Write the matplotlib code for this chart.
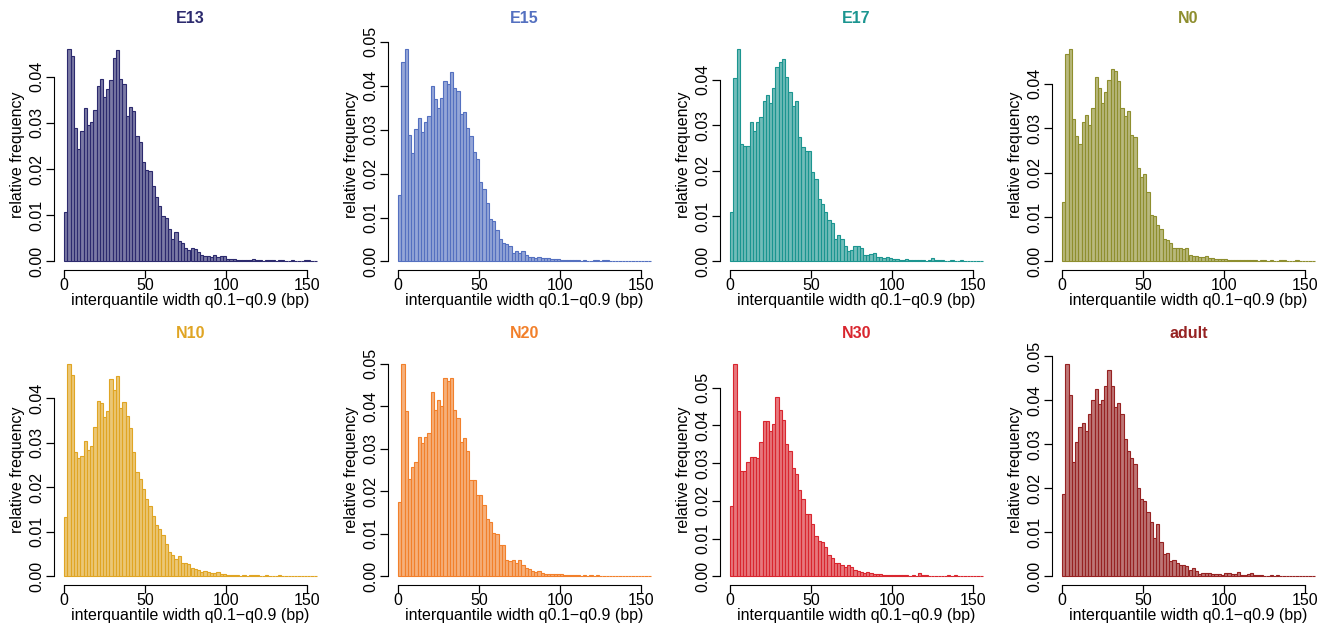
import numpy as np
import matplotlib
matplotlib.use("Agg")
import matplotlib.pyplot as plt
from matplotlib.colors import to_rgba

plt.rcParams['font.family'] = ['Liberation Sans', 'DejaVu Sans']

# histogram bins: 2 bp wide, starting at 0
bin_width = 2

stages = ["E13", "E15", "E17", "N0", "N10", "N20", "N30", "adult"]
colors = ["#2C2A6E", "#5470C0", "#1B9590", "#8E8E2E",
          "#E0A524", "#F2802B", "#D9262F", "#962222"]
ytop = [0.04, 0.05, 0.04, 0.04, 0.04, 0.05, 0.05, 0.05]

# relative frequency per bin
e13 = [0.0108, 0.0461, 0.0445, 0.0290, 0.0244, 0.0283, 0.0333, 0.0296, 0.0303, 0.0328,
       0.0380, 0.0394, 0.0357, 0.0373, 0.0393, 0.0440, 0.0458, 0.0395, 0.0384, 0.0314,
       0.0335, 0.0326, 0.0272, 0.0259, 0.0216, 0.0197, 0.0196, 0.0164, 0.0140, 0.0120,
       0.0099, 0.0094, 0.0070, 0.0048, 0.0063, 0.0045, 0.0041, 0.0029, 0.0025, 0.0029,
       0.0027, 0.0020, 0.0014, 0.0012, 0.0011, 0.0009, 0.0013, 0.0009, 0.0011, 0.0011,
       0.0006, 0.0006, 0.0005, 0.0004, 0.0003, 0.0004, 0.0003, 0.0004, 0.0005, 0.0003,
       0.0003, 0.0002, 0.0003, 0.0003, 0.0004, 0.0002, 0.0003, 0.0003, 0.0002, 0.0002,
       0.0003, 0.0002, 0.0002, 0.0002, 0.0003, 0.0003, 0.0002, 0.0001]
e15 = [0.0151, 0.0455, 0.0485, 0.0289, 0.0248, 0.0302, 0.0326, 0.0295, 0.0317, 0.0331,
       0.0400, 0.0370, 0.0350, 0.0372, 0.0412, 0.0404, 0.0432, 0.0394, 0.0389, 0.0336,
       0.0341, 0.0304, 0.0285, 0.0249, 0.0233, 0.0181, 0.0164, 0.0134, 0.0097, 0.0093,
       0.0072, 0.0052, 0.0042, 0.0040, 0.0036, 0.0020, 0.0025, 0.0019, 0.0024, 0.0014,
       0.0011, 0.0011, 0.0009, 0.0011, 0.0009, 0.0008, 0.0007, 0.0006, 0.0005, 0.0006,
       0.0004, 0.0004, 0.0003, 0.0004, 0.0003, 0.0003, 0.0002, 0.0003, 0.0002, 0.0002,
       0.0003, 0.0004, 0.0002, 0.0003, 0.0003, 0.0002, 0.0002, 0.0002, 0.0001, 0.0002,
       0.0002, 0.0001, 0.0001, 0.0002, 0.0002, 0.0001, 0.0002, 0.0002]
e17 = [0.0108, 0.0403, 0.0469, 0.0259, 0.0254, 0.0254, 0.0307, 0.0287, 0.0308, 0.0319,
       0.0353, 0.0366, 0.0349, 0.0381, 0.0429, 0.0440, 0.0445, 0.0407, 0.0374, 0.0343,
       0.0354, 0.0274, 0.0253, 0.0243, 0.0243, 0.0196, 0.0182, 0.0137, 0.0126, 0.0108,
       0.0091, 0.0085, 0.0050, 0.0058, 0.0050, 0.0034, 0.0024, 0.0026, 0.0033, 0.0033,
       0.0029, 0.0015, 0.0015, 0.0017, 0.0018, 0.0009, 0.0010, 0.0007, 0.0010, 0.0007,
       0.0006, 0.0006, 0.0004, 0.0004, 0.0005, 0.0003, 0.0004, 0.0003, 0.0003, 0.0003,
       0.0002, 0.0003, 0.0007, 0.0003, 0.0004, 0.0003, 0.0002, 0.0002, 0.0003, 0.0002,
       0.0002, 0.0003, 0.0001, 0.0002, 0.0002, 0.0002, 0.0001, 0.0002]
n0 = [0.0133, 0.0466, 0.0479, 0.0321, 0.0282, 0.0264, 0.0314, 0.0329, 0.0308, 0.0345,
      0.0416, 0.0391, 0.0357, 0.0381, 0.0409, 0.0434, 0.0428, 0.0406, 0.0346, 0.0327,
      0.0338, 0.0284, 0.0280, 0.0211, 0.0191, 0.0196, 0.0157, 0.0105, 0.0102, 0.0081,
      0.0073, 0.0050, 0.0049, 0.0041, 0.0030, 0.0030, 0.0030, 0.0028, 0.0030, 0.0015,
      0.0013, 0.0013, 0.0011, 0.0009, 0.0013, 0.0007, 0.0007, 0.0006, 0.0005, 0.0006,
      0.0005, 0.0004, 0.0004, 0.0003, 0.0004, 0.0003, 0.0003, 0.0004, 0.0003, 0.0003,
      0.0002, 0.0003, 0.0003, 0.0002, 0.0003, 0.0002, 0.0002, 0.0004, 0.0003, 0.0002,
      0.0002, 0.0002, 0.0003, 0.0002, 0.0001, 0.0001, 0.0001, 0.0001]
n10 = [0.0133, 0.0478, 0.0452, 0.0280, 0.0267, 0.0271, 0.0305, 0.0284, 0.0292, 0.0336,
       0.0393, 0.0389, 0.0359, 0.0372, 0.0443, 0.0419, 0.0451, 0.0378, 0.0391, 0.0361,
       0.0334, 0.0280, 0.0234, 0.0218, 0.0196, 0.0174, 0.0159, 0.0136, 0.0116, 0.0106,
       0.0092, 0.0073, 0.0054, 0.0049, 0.0039, 0.0045, 0.0031, 0.0031, 0.0028, 0.0020,
       0.0017, 0.0015, 0.0009, 0.0013, 0.0011, 0.0008, 0.0008, 0.0009, 0.0006, 0.0006,
       0.0004, 0.0004, 0.0003, 0.0003, 0.0002, 0.0003, 0.0002, 0.0003, 0.0003, 0.0003,
       0.0002, 0.0002, 0.0003, 0.0002, 0.0002, 0.0002, 0.0003, 0.0001, 0.0002, 0.0001,
       0.0002, 0.0001, 0.0001, 0.0001, 0.0001, 0.0001, 0.0001, 0.0001]
n20 = [0.0174, 0.0500, 0.0389, 0.0228, 0.0256, 0.0268, 0.0328, 0.0314, 0.0328, 0.0336,
       0.0434, 0.0392, 0.0414, 0.0401, 0.0465, 0.0459, 0.0465, 0.0392, 0.0373, 0.0316,
       0.0326, 0.0295, 0.0227, 0.0227, 0.0191, 0.0191, 0.0168, 0.0135, 0.0127, 0.0102,
       0.0100, 0.0074, 0.0074, 0.0039, 0.0037, 0.0039, 0.0031, 0.0038, 0.0026, 0.0020,
       0.0017, 0.0013, 0.0010, 0.0013, 0.0008, 0.0007, 0.0006, 0.0006, 0.0005, 0.0006,
       0.0005, 0.0004, 0.0004, 0.0003, 0.0004, 0.0003, 0.0002, 0.0003, 0.0002, 0.0003,
       0.0002, 0.0003, 0.0002, 0.0002, 0.0002, 0.0001, 0.0002, 0.0002, 0.0001, 0.0001,
       0.0001, 0.0001, 0.0001, 0.0001, 0.0001, 0.0001, 0.0001, 0.0001]
n30 = [0.0187, 0.0564, 0.0437, 0.0280, 0.0280, 0.0304, 0.0316, 0.0317, 0.0315, 0.0355,
       0.0413, 0.0412, 0.0386, 0.0404, 0.0476, 0.0441, 0.0414, 0.0350, 0.0332, 0.0287,
       0.0272, 0.0228, 0.0205, 0.0166, 0.0166, 0.0139, 0.0106, 0.0094, 0.0090, 0.0077,
       0.0057, 0.0049, 0.0037, 0.0037, 0.0031, 0.0026, 0.0031, 0.0025, 0.0018, 0.0015,
       0.0013, 0.0009, 0.0011, 0.0009, 0.0007, 0.0007, 0.0006, 0.0005, 0.0004, 0.0004,
       0.0003, 0.0003, 0.0004, 0.0003, 0.0003, 0.0002, 0.0003, 0.0002, 0.0008, 0.0003,
       0.0003, 0.0002, 0.0002, 0.0001, 0.0002, 0.0002, 0.0002, 0.0003, 0.0002, 0.0003,
       0.0002, 0.0001, 0.0001, 0.0001, 0.0001, 0.0001, 0.0001, 0.0001]
adult = [0.0187, 0.0483, 0.0412, 0.0259, 0.0306, 0.0340, 0.0349, 0.0331, 0.0368, 0.0400,
         0.0425, 0.0391, 0.0400, 0.0433, 0.0468, 0.0432, 0.0385, 0.0394, 0.0369, 0.0311,
         0.0285, 0.0268, 0.0255, 0.0200, 0.0175, 0.0171, 0.0147, 0.0123, 0.0087, 0.0119,
         0.0078, 0.0051, 0.0053, 0.0034, 0.0038, 0.0030, 0.0026, 0.0026, 0.0023, 0.0015,
         0.0019, 0.0013, 0.0006, 0.0009, 0.0008, 0.0007, 0.0005, 0.0005, 0.0006, 0.0004,
         0.0009, 0.0007, 0.0005, 0.0005, 0.0011, 0.0004, 0.0004, 0.0006, 0.0007, 0.0003,
         0.0003, 0.0003, 0.0002, 0.0002, 0.0003, 0.0002, 0.0004, 0.0002, 0.0002, 0.0002,
         0.0001, 0.0001, 0.0001, 0.0002, 0.0001, 0.0002, 0.0001, 0.0001]

series = [e13, e15, e17, n0, n10, n20, n30, adult]

fig = plt.figure(figsize=(13.38, 6.25), dpi=100)
W, H = 1338.0, 625.0
lefts = [54, 388, 720, 1052]
tops = [40, 355]
pw, ph = 273, 230

for i, (name, col, vals, yt) in enumerate(zip(stages, colors, series, ytop)):
    r, c = divmod(i, 4)
    ax = fig.add_axes([lefts[c] / W, 1 - (tops[r] + ph) / H, pw / W, ph / H])
    vals = np.array(vals)
    edges = np.arange(len(vals) + 1) * bin_width
    ax.bar(edges[:-1], vals, width=bin_width, align='edge',
           color=to_rgba(col, 0.62), edgecolor=col, linewidth=0.8)
    xmax = edges[-1]
    ymax = vals.max()
    ax.set_xlim(-0.04 * xmax, 1.04 * xmax)
    ax.set_ylim(-0.04 * ymax, 1.04 * ymax)
    for s in ['top', 'right']:
        ax.spines[s].set_visible(False)
    ax.spines['bottom'].set_bounds(0, 150)
    ax.spines['left'].set_bounds(0, yt)
    ax.set_xticks([0, 50, 100, 150])
    yticks = np.arange(0, yt + 1e-9, 0.01)
    ax.set_yticks(yticks)
    ax.set_yticklabels([f"{v:.2f}" for v in yticks], rotation=90, va='center')
    ax.tick_params(labelsize=11.5, length=6, width=0.9, pad=1)
    ax.tick_params(axis='x', pad=0)
    ax.set_xlabel("interquantile width q0.1\u2212q0.9 (bp)", fontsize=11.5, labelpad=0)
    ax.set_ylabel("relative frequency", fontsize=11.5, labelpad=3)
    ax.set_title(name, color=col, fontweight='bold', fontsize=11.5, pad=12)

fig.savefig("out.png", dpi=100)
